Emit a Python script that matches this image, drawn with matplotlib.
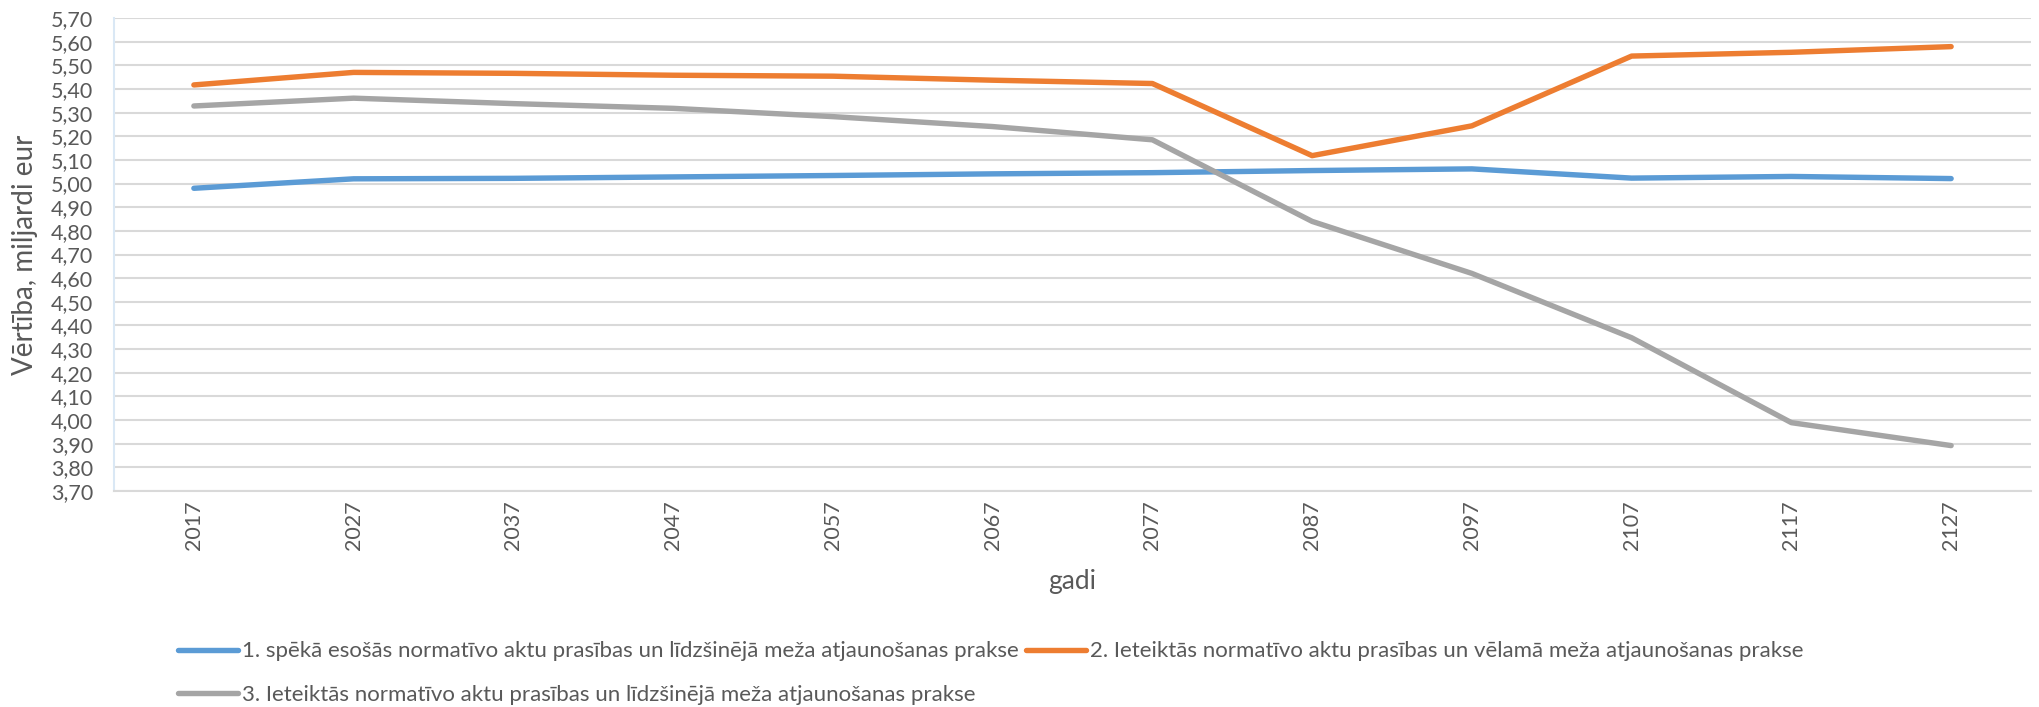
import matplotlib.pyplot as plt
from matplotlib.ticker import FuncFormatter, MultipleLocator

plt.rcParams['font.family'] = ['Lato', 'DejaVu Sans']

years = [2017, 2027, 2037, 2047, 2057, 2067, 2077, 2087, 2097, 2107, 2117, 2127]
series_1 = [4.98, 5.02, 5.022, 5.028, 5.034, 5.041, 5.046, 5.055, 5.062, 5.023, 5.03, 5.021]
series_2 = [5.417, 5.47, 5.466, 5.458, 5.454, 5.437, 5.423, 5.118, 5.244, 5.539, 5.555, 5.579]
series_3 = [5.328, 5.361, 5.338, 5.318, 5.283, 5.241, 5.185, 4.84, 4.62, 4.348, 3.989, 3.892]
labels = [
    "1. spēkā esošās normatīvo aktu prasības un līdzšinējā meža atjaunošanas prakse",
    "2. Ieteiktās normatīvo aktu prasības un vēlamā meža atjaunošanas prakse",
    "3. Ieteiktās normatīvo aktu prasības un līdzšinējā meža atjaunošanas prakse",
]
colors = ["#5B9BD5", "#ED7D31", "#A5A5A5"]

text_color = "#595959"
W, H = 2039, 707
fig = plt.figure(figsize=(W / 100, H / 100), dpi=100)
ax = fig.add_axes([114 / W, 1 - 491 / H, (2031 - 114) / W, (491 - 18) / H])

x = list(range(len(years)))
handles = []
for vals, lab, c in zip([series_1, series_2, series_3], labels, colors):
    h, = ax.plot(x, vals, color=c, lw=3.9, label=lab, solid_capstyle='round', zorder=3)
    handles.append(h)

ax.set_xlim(-0.5, len(years) - 0.5)
ax.set_ylim(3.70, 5.70)
ax.yaxis.set_major_locator(MultipleLocator(0.1))
ax.yaxis.set_major_formatter(FuncFormatter(lambda v, p: f"{v:.2f}".replace(".", ",")))
ax.set_xticks(x)
ax.set_xticklabels([str(y) for y in years], rotation=90)
ax.grid(axis='y', color="#D9D9D9", lw=1.5, zorder=0)
ax.set_axisbelow(True)
for s in ['top', 'right']:
    ax.spines[s].set_visible(False)
ax.spines['bottom'].set_color("#D9D9D9")
ax.spines['bottom'].set_linewidth(1.5)
ax.spines['left'].set_color("#DAE8F5")
ax.spines['left'].set_linewidth(1.5)
ax.tick_params(axis='both', length=0, labelsize=15.5, colors=text_color)
ax.tick_params(axis='y', pad=15)
ax.tick_params(axis='x', pad=7)

ax.set_ylabel("Vērtība, miljardi eur", fontsize=20, color=text_color)
ax.yaxis.set_label_coords(-(114 - 38) / (2031 - 114), 0.5)
ax.set_xlabel("gadi", fontsize=19, color=text_color, va='center')
ax.xaxis.set_label_coords(0.5, -(581 - 491) / (491 - 18))

fig.legend([handles[0], handles[2], handles[1]], [labels[0], labels[2], labels[1]],
           ncol=2, loc='center', bbox_to_anchor=(0.486, 1 - 673 / H),
           frameon=False, fontsize=16, labelcolor=text_color,
           handlelength=2.7, handletextpad=0.2, columnspacing=0.3, labelspacing=1.05,
           borderaxespad=0, borderpad=0)

fig.savefig("out.png", dpi=100)
